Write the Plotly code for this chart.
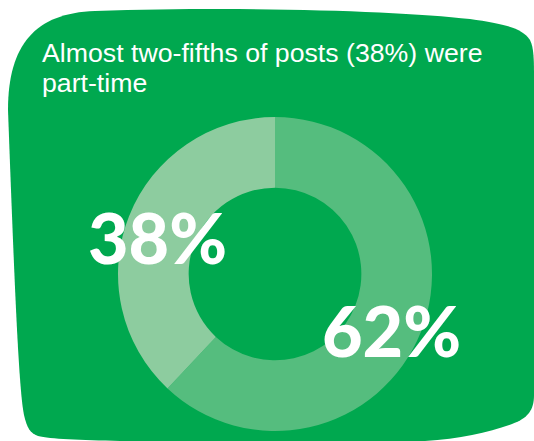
import plotly.graph_objects as go

# Data
categories = ["Full-time", "Part-time"]
values = [62, 38]
label_texts = ["62%", "38%"]
title_lines = ["Almost two-fifths of posts (38%) were", "part-time"]

# Styles
bg_green = "#00A84F"
slice_colors = ["#55BD7E", "#8DCC9F"]

W, H = 534, 441

fig = go.Figure()

fig.add_trace(go.Pie(
    labels=categories,
    values=values,
    hole=0.55,
    sort=False,
    direction="clockwise",
    rotation=0,
    marker=dict(colors=slice_colors, line=dict(width=0)),
    textinfo="none",
    hoverinfo="label+percent",
    showlegend=False,
    domain=dict(x=[118 / W, 432 / W], y=[1 - 431 / H, 1 - 117 / H]),
))

blob = ("M 8,110 C 8,45 35,13 95,11 C 250,6 400,11 470,19 "
        "C 505,24 522,28 530,40 C 534,48 534,60 534,80 L 534,395 "
        "C 534,410 528,418 512,424 C 490,432 460,439 425,441 L 120,441 "
        "C 80,440 50,439 38,436 C 30,433 27,428 24,415 "
        "C 19,390 15,300 8,110 Z")

fig.update_layout(
    width=W, height=H,
    margin=dict(l=0, r=0, t=0, b=0),
    paper_bgcolor="white",
    plot_bgcolor="rgba(0,0,0,0)",
    xaxis=dict(range=[0, W], visible=False, fixedrange=True),
    yaxis=dict(range=[H, 0], visible=False, fixedrange=True),
    shapes=[dict(type="path", path=blob, xref="x", yref="y",
                 fillcolor=bg_green, line=dict(width=0), layer="below")],
)

# Title lines
for i, line in enumerate(title_lines):
    fig.add_annotation(
        x=40, y=53 + 30 * i, xref="x", yref="y",
        text=line, showarrow=False, xanchor="left", yanchor="middle",
        font=dict(family="Liberation Sans, Arial, sans-serif", size=26.7, color="white"),
    )

# Big percentage labels
label_pos = [(391, 330), (157, 237)]
for txt, (lx, ly) in zip(label_texts, label_pos):
    fig.add_annotation(
        x=lx, y=ly, xref="x", yref="y",
        text=txt, showarrow=False, xanchor="center", yanchor="middle",
        font=dict(family="Lato, Open Sans, sans-serif", size=70, color="white", weight=900),
    )

fig.write_html(
    "out.html",
    config={"displayModeBar": False},
    post_script="document.body.style.margin='0';document.body.style.overflow='hidden';",
)
